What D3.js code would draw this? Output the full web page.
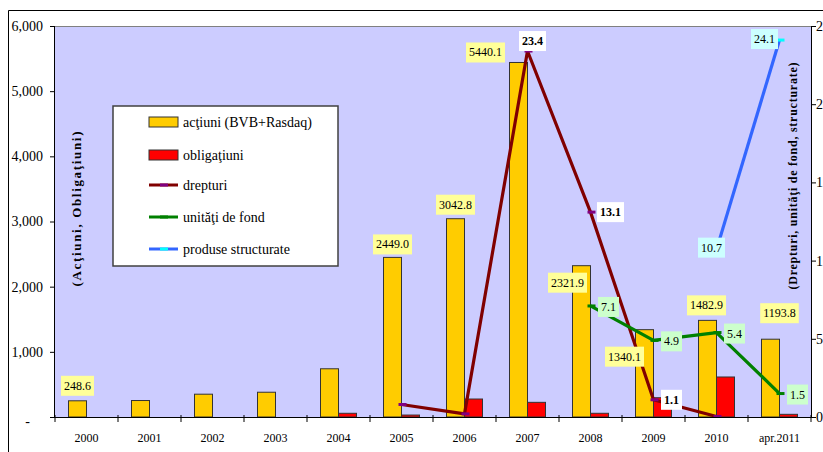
<!DOCTYPE html>
<html>
<head>
<meta charset="utf-8">
<script src="https://cdn.jsdelivr.net/npm/d3@7"></script>
<style>
  html, body { margin: 0; padding: 0; background: #fff; }
  svg { display: block; }
  svg text { font-family: "Liberation Serif", "Times New Roman", "DejaVu Serif", serif !important; fill: #000; }
</style>
</head>
<body>
<svg id="chart" width="823" height="452"></svg>
<script>
// ---- data ----
const years = ["2000", "2001", "2002", "2003", "2004", "2005", "2006", "2007", "2008", "2009", "2010", "apr.2011"];
const actiuni = [248.6, 253, 350, 380, 740, 2449.0, 3042.8, 5440.1, 2321.9, 1340.1, 1482.9, 1193.8];
const obligatiuni = [0, 0, 0, 0, 57, 30, 276, 225, 57, 296, 614, 41];
const drepturi = [null, null, null, null, null, 0.8, 0.2, 23.4, 13.1, 1.1, 0.03, null];
const unitati = [null, null, null, null, null, null, null, null, 7.1, 4.9, 5.4, 1.5];
const produse = [null, null, null, null, null, null, null, null, null, null, 10.7, 24.1];
const leftTicks = [0, 1000, 2000, 3000, 4000, 5000, 6000];
const rightTicks = [0, 5, 10, 15, 20, 25];
const actiuniLabelled = ["2000", "2005", "2006", "2007", "2008", "2009", "2010", "apr.2011"];
const drepturiLabelled = ["2007", "2008", "2009"];
const seriesNames = ["acţiuni (BVB+Rasdaq)", "obligaţiuni", "drepturi", "unităţi de fond", "produse structurate"];

// ---- layout ----
const plot = { left: 55, right: 811, top: 26, bottom: 417 };
// label nudges (px) relative to the default anchor of each label
const actiuniNudge = {
  "2000": [0, -15], "2005": [0, -13], "2006": [0, -14], "2007": [-33, -10],
  "2008": [-14, 17], "2009": [-20, 27], "2010": [-1, -15], "apr.2011": [9, -26]
};
const drepturiNudge = { "2007": [5, -10], "2008": [20, 0], "2009": [18, 0] };
const produseNudge = { "2010": [-5, -2], "apr.2011": [-15, -1] };

const colors = {
  actiuni: "#FFCC00", oblig: "#FF0000", drepturi: "#800000", drepturiMk: "#800080",
  unitati: "#008000", unitatiMk: "#008000", produse: "#3366FF", produseMk: "#00FFFF",
  plotBg: "#CCCCFF"
};

const svg = d3.select("#chart");

// outer chart frame
svg.append("path")
  .attr("d", "M8.5,460 L8.5,10.5 L830,10.5")
  .attr("fill", "none").attr("stroke", "#000").attr("stroke-width", 1);

// plot area
svg.append("rect")
  .attr("x", plot.left).attr("y", plot.top)
  .attr("width", plot.right - plot.left).attr("height", plot.bottom - plot.top)
  .attr("fill", colors.plotBg);
svg.append("line")
  .attr("x1", plot.left).attr("x2", plot.right)
  .attr("y1", plot.top + 0.5).attr("y2", plot.top + 0.5)
  .attr("stroke", "#808080").attr("stroke-width", 1);

// scales
const x0 = d3.scaleBand().domain(years).range([plot.left, plot.right]).paddingInner(0).paddingOuter(0);
const x1 = d3.scaleBand().domain(["a", "o"]).range([0, x0.bandwidth()]).paddingInner(0).paddingOuter(0.75);
const yL = d3.scaleLinear().domain([0, 6000]).range([plot.bottom, plot.top]);
const yR = d3.scaleLinear().domain([0, 25]).range([plot.bottom, plot.top]);
const cx = y => x0(y) + x0.bandwidth() / 2;

// bars
const barData = years.map((y, i) => ({ year: y, a: actiuni[i], o: obligatiuni[i] }));
const g = svg.append("g");
barData.forEach(d => {
  g.append("rect")
    .attr("x", x0(d.year) + x1("a")).attr("width", x1.bandwidth())
    .attr("y", yL(d.a)).attr("height", yL(0) - yL(d.a))
    .attr("fill", colors.actiuni).attr("stroke", "#333").attr("stroke-width", 1);
  if (d.o > 0) {
    g.append("rect")
      .attr("x", x0(d.year) + x1("o")).attr("width", x1.bandwidth())
      .attr("y", yL(d.o)).attr("height", yL(0) - yL(d.o))
      .attr("fill", colors.oblig).attr("stroke", "#333").attr("stroke-width", 1);
  }
});

// legend box
const lg = svg.append("g");
lg.append("rect").attr("x", 113).attr("y", 106).attr("width", 225).attr("height", 160)
  .attr("fill", "#fff").attr("stroke", "#404040").attr("stroke-width", 1.5);

// lines
function drawLine(values, color, mkColor) {
  const pts = years.map((y, i) => ({ year: y, v: values[i] })).filter(p => p.v !== null);
  const line = d3.line().x(p => cx(p.year)).y(p => yR(p.v));
  svg.append("path").datum(pts).attr("d", line)
    .attr("fill", "none").attr("stroke", color).attr("stroke-width", 3.2)
    .attr("stroke-linejoin", "round");
  svg.selectAll(null).data(pts).enter().append("line")
    .attr("x1", p => cx(p.year) - 3).attr("x2", p => cx(p.year) + 5)
    .attr("y1", p => yR(p.v)).attr("y2", p => yR(p.v))
    .attr("stroke", mkColor).attr("stroke-width", 3);
  return pts;
}
const dPts = drawLine(drepturi, colors.drepturi, colors.drepturiMk);
const uPts = drawLine(unitati, colors.unitati, colors.unitatiMk);
const pPts = drawLine(produse, colors.produse, colors.produseMk);

// axes
const axL = svg.append("g").attr("transform", `translate(${plot.left},0)`)
  .call(d3.axisLeft(yL).tickValues(leftTicks).tickSize(5).tickPadding(7)
    .tickFormat(v => v === 0 ? "-" : d3.format(",")(v)));
axL.selectAll("text").attr("font-size", 14);
axL.selectAll(".tick").filter(v => v === 0).select("text").attr("dx", -13).attr("dy", "0.6em");
axL.select(".domain").attr("d", `M-0.5,${plot.top}V${plot.bottom}`);

const axR = svg.append("g").attr("transform", `translate(${plot.right},0)`)
  .call(d3.axisRight(yR).tickValues(rightTicks).tickSize(5).tickPadding(0));
axR.selectAll("text").attr("font-size", 14);
axR.select(".domain").attr("d", `M0.5,${plot.top}V${plot.bottom}`);

const axB = svg.append("g").attr("transform", `translate(0,${plot.bottom})`)
  .call(d3.axisBottom(x0).tickSize(0).tickPadding(16));
axB.selectAll("text").attr("font-size", 12);
axB.select(".domain").attr("d", `M${plot.left - 5},0.5H${plot.right}`);
// category separators on the x axis
const bounds = years.map(y => x0(y)).concat([plot.right]);
axB.selectAll("line.sep").data(bounds).enter().append("line").attr("class", "sep")
  .attr("x1", b => b).attr("x2", b => b).attr("y1", -2).attr("y2", 5)
  .attr("stroke", "#000");
svg.selectAll(".domain").attr("stroke", "#000");
svg.selectAll(".tick line").attr("stroke", "#000");

// value labels
function boxLabel(x, y, text, bg, bold) {
  const t = svg.append("text").attr("x", x).attr("y", y)
    .attr("text-anchor", "middle").attr("dominant-baseline", "central")
    .attr("font-size", 12).attr("font-weight", bold ? "bold" : "normal").text(text);
  const bb = t.node().getBBox();
  svg.insert("rect", () => t.node())
    .attr("x", bb.x - 3).attr("y", y - 10).attr("width", bb.width + 6).attr("height", 20)
    .attr("fill", bg);
}
barData.filter(d => actiuniLabelled.includes(d.year)).forEach(d => {
  const n = actiuniNudge[d.year];
  boxLabel(x0(d.year) + x1("a") + x1.bandwidth() / 2 + n[0], yL(d.a) + n[1], d3.format(".1f")(d.a), "#FFFF99", false);
});
dPts.filter(p => drepturiLabelled.includes(p.year)).forEach(p => {
  const n = drepturiNudge[p.year];
  boxLabel(cx(p.year) + n[0], yR(p.v) + n[1], d3.format(".1f")(p.v), "#FFFFFF", true);
});
uPts.forEach(p => boxLabel(cx(p.year) + 18, yR(p.v) + 1, d3.format(".1f")(p.v), "#CCFFCC", false));
pPts.forEach(p => {
  const n = produseNudge[p.year];
  boxLabel(cx(p.year) + n[0], yR(p.v) + n[1], d3.format(".1f")(p.v), "#CCFFFF", false);
});

// legend entries
const rowY = [122, 155, 185, 217, 249];
const lx = 149, lw = 29;
seriesNames.forEach((name, i) => {
  const y = rowY[i];
  if (i < 2) {
    lg.append("rect").attr("x", lx).attr("y", y - 5).attr("width", lw).attr("height", 10)
      .attr("fill", i === 0 ? colors.actiuni : colors.oblig).attr("stroke", "#333");
  } else {
    const c = [colors.drepturi, colors.unitati, colors.produse][i - 2];
    const m = [colors.drepturiMk, colors.unitatiMk, colors.produseMk][i - 2];
    lg.append("line").attr("x1", lx).attr("x2", lx + lw).attr("y1", y).attr("y2", y)
      .attr("stroke", c).attr("stroke-width", 3);
    lg.append("line").attr("x1", lx + 11).attr("x2", lx + 19).attr("y1", y).attr("y2", y)
      .attr("stroke", m).attr("stroke-width", 3);
  }
  lg.append("text").attr("x", 183).attr("y", y).attr("dominant-baseline", "central")
    .attr("font-size", 14).text(name);
});

// axis titles
svg.append("text").attr("transform", "translate(76,209) rotate(-90)")
  .attr("text-anchor", "middle").attr("dominant-baseline", "central")
  .attr("font-size", 13).attr("font-weight", "bold")
  .attr("textLength", 155).attr("lengthAdjust", "spacing")
  .text("(Acţiuni, Obligaţiuni)");
svg.append("text").attr("transform", "translate(793,176) rotate(-90)")
  .attr("text-anchor", "middle").attr("dominant-baseline", "central")
  .attr("font-size", 12).attr("font-weight", "bold")
  .attr("textLength", 227).attr("lengthAdjust", "spacing")
  .text("(Drepturi, unităţi de fond, structurate)");
</script>
</body>
</html>
